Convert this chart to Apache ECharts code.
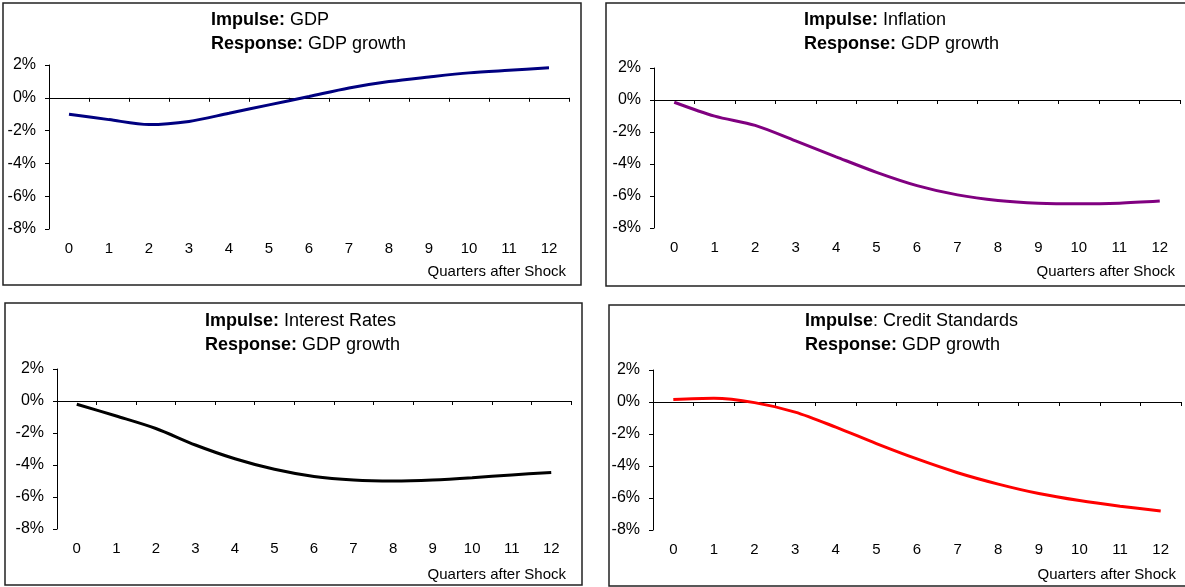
<!DOCTYPE html>
<html>
<head>
<meta charset="utf-8">
<script src="https://cdn.jsdelivr.net/npm/echarts@6/dist/echarts.min.js"></script>
<style>
html,body{margin:0;padding:0;background:#fff;}
#chart{width:1185px;height:587px;}
</style>
</head>
<body>
<div id="chart"></div>
<script>
// ---- data ----
const quarters = ['0','1','2','3','4','5','6','7','8','9','10','11','12'];
const gdpImpulse = [-1.0, -1.33, -1.63, -1.44, -0.94, -0.43, 0.08, 0.6, 0.99, 1.27, 1.52, 1.68, 1.83];
const inflationImpulse = [-0.14, -1.01, -1.59, -2.56, -3.55, -4.52, -5.35, -5.93, -6.28, -6.45, -6.49, -6.45, -6.32];
const rateImpulse = [-0.2, -0.94, -1.72, -2.75, -3.61, -4.27, -4.72, -4.94, -5.0, -4.94, -4.8, -4.62, -4.47];
const creditImpulse = [0.15, 0.23, -0.04, -0.63, -1.57, -2.6, -3.56, -4.42, -5.13, -5.72, -6.16, -6.51, -6.81];
const yMin = -8, yMax = 2, yStep = 2;
const impulseNames = ['GDP', 'Inflation', 'Interest Rates', 'Credit Standards'];
const responseName = 'GDP growth';
const xAxisTitle = 'Quarters after Shock';

// ---- layout ----
const panels = [
  {grid:{left:49, top:65, width:520, height:164}, box:[3,3,578,282], title:[211,8], color:'#000080', data:gdpImpulse, colon:true, xt:[566,272]},
  {grid:{left:654, top:68, width:526, height:160}, box:[606,3,600,283], title:[804,8], color:'#800080', data:inflationImpulse, colon:true, xt:[1175,272]},
  {grid:{left:57, top:369, width:514, height:160}, box:[5,303,577,282], title:[205,309], color:'#000000', data:rateImpulse, colon:true, xt:[566,575]},
  {grid:{left:653, top:370, width:528, height:160}, box:[609,305,600,281], title:[805,309], color:'#ff0000', data:creditImpulse, colon:false, xt:[1176,575]}
];

const font = 'Liberation Sans, Arial, sans-serif';
const option = {
  animation:false,
  backgroundColor:'#fff',
  title:[], grid:[], xAxis:[], yAxis:[], series:[], graphic:[]
};

panels.forEach((p,i)=>{
  option.grid.push(Object.assign({containLabel:false}, p.grid));
  const imp = p.colon ? '{b|Impulse:} ' + impulseNames[i] : '{b|Impulse}: ' + impulseNames[i];
  option.title.push({
    text: imp + '\n{b|Response:} ' + responseName,
    left: p.title[0], top: p.title[1], padding:0,
    textStyle:{fontFamily:font, fontSize:18, fontWeight:'normal', color:'#000', lineHeight:24,
      rich:{b:{fontFamily:font, fontSize:18, fontWeight:'bold', color:'#000', lineHeight:24}}}
  });
  // axis line at zero with ticks
  option.xAxis.push({
    type:'category', gridIndex:i, data:quarters, position:'bottom', boundaryGap:true,
    axisLine:{show:true, onZero:true, lineStyle:{color:'#000', width:1}},
    axisTick:{show:true, length:4, lineStyle:{color:'#000'}},
    axisLabel:{show:false}, splitLine:{show:false}
  });
  // labels at bottom
  option.xAxis.push({
    type:'category', gridIndex:i, data:quarters, position:'bottom', boundaryGap:true,
    axisLine:{show:false, onZero:false}, axisTick:{show:false},
    axisLabel:{show:true, margin:12, fontFamily:font, fontSize:15, color:'#000', interval:0},
    splitLine:{show:false}
  });
  option.yAxis.push({
    type:'value', gridIndex:i, min:yMin, max:yMax, interval:yStep,
    axisLine:{show:true, lineStyle:{color:'#000', width:1}},
    axisTick:{show:true, length:4, lineStyle:{color:'#000'}},
    axisLabel:{margin:13, fontFamily:font, fontSize:16, color:'#000', formatter: v => v + '%'},
    splitLine:{show:false}
  });
  option.series.push({
    type:'line', xAxisIndex:2*i, yAxisIndex:i, data:p.data, smooth:0.3,
    symbol:'none', lineStyle:{color:p.color, width:3}, itemStyle:{color:p.color}
  });
  option.graphic.push({
    type:'rect', shape:{x:p.box[0], y:p.box[1], width:p.box[2], height:p.box[3]},
    style:{fill:'none', stroke:'#222', lineWidth:1.5}, silent:true, z:-1
  });
  option.graphic.push({
    type:'text', x:p.xt[0], y:p.xt[1],
    style:{text:xAxisTitle, fontFamily:font, fontSize:15, fill:'#000', align:'right', verticalAlign:'middle'}
  });
});

const chart = echarts.init(document.getElementById('chart'));
chart.setOption(option);
</script>
</body>
</html>
